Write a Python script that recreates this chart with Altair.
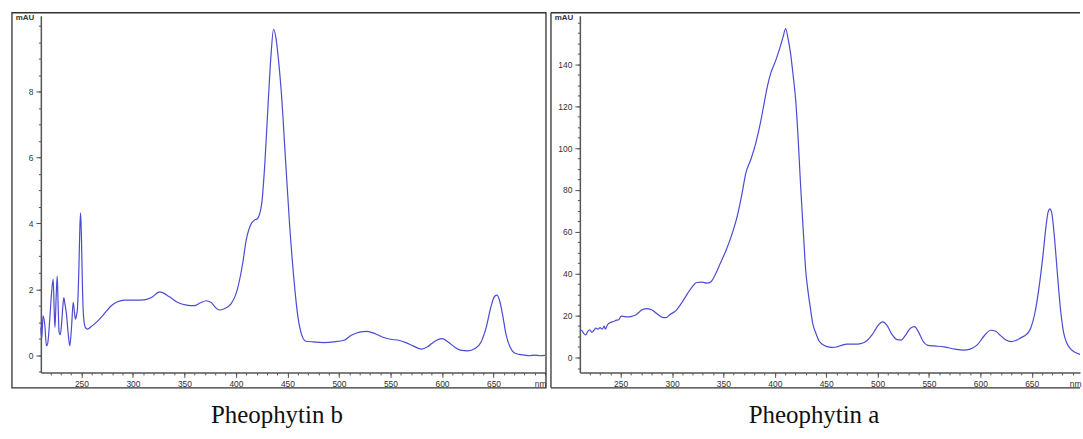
import altair as alt
import pandas as pd

# ---------------- data: Pheophytin b ----------------
b_nm = [210.6, 211.5, 212.7, 214.5, 216.0, 217.2, 219.5, 221.0, 222.6, 223.5, 224.3, 225.5, 226.5,
        227.4, 228.3, 229.5, 230.6, 232.0, 232.9, 234.0, 235.5, 237.0, 238.7, 240.5, 242.0, 243.2,
        244.2, 245.2, 246.2, 247.5, 248.5, 249.2, 250.0, 251.0, 252.0, 253.8, 255.8, 260.0, 266.0,
        272.0, 279.0, 285.0, 292.0, 300.0, 311.0, 318.0, 326.0, 335.0, 343.5, 352.0, 359.5, 365.0,
        371.0, 376.0, 380.0, 384.0, 388.0, 395.0, 400.0, 406.4, 410.0, 414.4, 418.0, 421.0, 425.0,
        428.0, 431.0, 434.0, 436.5, 439.0, 441.5, 444.0, 448.0, 452.0, 456.0, 460.0, 464.0, 468.0,
        475.0, 485.0, 495.0, 505.0, 512.0, 520.0, 527.0, 535.0, 542.0, 550.0, 558.0, 565.0, 572.0,
        580.0, 586.0, 592.0, 600.0, 606.0, 612.0, 618.0, 625.0, 632.0, 638.0, 643.0, 647.0, 651.0,
        653.5, 656.0, 659.0, 662.0, 666.0, 670.0, 675.0, 680.0, 685.0, 690.0, 695.0, 700.0]
b_val = [0.84, 0.5, 1.19, 0.9, 0.28, 0.35, 1.2, 1.9, 2.3, 1.4, 0.84, 1.8, 2.4,
         1.5, 0.7, 0.62, 0.9, 1.5, 1.75, 1.55, 1.24, 0.7, 0.28, 0.9, 1.6, 1.3,
         1.09, 1.2, 1.44, 2.6, 3.9, 4.32, 3.6, 2.05, 1.2, 0.84, 0.79, 0.88, 1.04,
         1.25, 1.5, 1.62, 1.67, 1.67, 1.68, 1.75, 1.92, 1.78, 1.6, 1.52, 1.5, 1.58,
         1.65, 1.6, 1.45, 1.37, 1.4, 1.55, 1.85, 2.76, 3.5, 3.97, 4.1, 4.15, 4.6,
         5.8, 7.5, 9.1, 9.9, 9.6, 8.9, 8.0, 6.0, 4.0, 2.4, 1.2, 0.6, 0.42,
         0.4, 0.38, 0.4, 0.45, 0.6, 0.7, 0.72, 0.65, 0.55, 0.48, 0.45, 0.38, 0.28,
         0.18, 0.25, 0.4, 0.5, 0.4, 0.25, 0.15, 0.13, 0.2, 0.4, 0.85, 1.4, 1.78,
         1.82, 1.65, 1.2, 0.65, 0.25, 0.07, 0.02, 0.0, -0.02, 0.0, -0.02, -0.01]

# ---------------- data: Pheophytin a ----------------
a_nm = [210.3, 212, 214, 216, 218, 220, 222, 224, 226, 228, 230, 232, 234, 235, 237, 240, 243, 246,
        248, 250.6, 254, 258, 262, 266, 270, 275, 280, 285, 290, 294, 298, 304, 310, 315, 320, 324,
        329, 334, 338, 342, 347, 352, 357, 363.7, 368, 371.8, 377, 381.5, 386, 389.6, 393, 396, 401,
        405, 408, 410.6, 413, 415.4, 418, 420.3, 423, 425, 428, 430, 432.5, 434.8, 437, 439.7, 443,
        446, 450, 455.8, 460, 465, 470, 480, 485, 489.5, 495, 500, 505, 509, 514, 519, 523, 527, 532,
        536, 540, 544, 549, 555, 565, 575, 584, 590, 597, 604, 610, 615, 620, 625, 630, 635, 640, 645,
        649, 653, 657, 661, 664, 666, 667.7, 669.5, 672, 675, 678, 681, 684, 688, 692, 697]
a_val = [12.5, 13, 11.5, 10.8, 12.5, 13.2, 12, 13, 14, 13.5, 14.3, 13.5, 15, 13.5, 15.5, 16.7, 17.2, 17.8,
         18, 19.7, 19.5, 19.4, 19.8, 20.8, 22.5, 23.3, 22.8, 21, 19.3, 19, 20.5, 22.5, 26.5, 30.5, 34, 35.8,
         36, 35.5, 36.2, 39.5, 45, 50.5, 57, 68, 78, 88, 95, 102.4, 112, 121.4, 130, 135.7, 142,
         148, 153, 157, 152, 145, 134, 123, 102, 83, 58, 42, 31, 23, 16, 11.9, 8,
         6.4, 5.3, 4.8, 5, 5.8, 6.4, 6.4, 6.8, 8, 11, 15, 17, 15.5, 11, 8.5, 8.3, 10.5, 14,
         14.7, 12, 8, 5.8, 5.5, 5.1, 4, 3.5, 4, 6, 10.5, 13, 12.5, 10.3, 8.3, 7.6, 8.2, 9.6, 11,
         14, 21, 33, 49, 63, 69.5, 71, 69, 58, 40, 23, 12, 7, 4, 2.5, 1.5]

x_major = [250, 300, 350, 400, 450, 500, 550, 600, 650]
b_x_minor = list(range(220, 701, 10))
a_x_minor = list(range(220, 691, 10))
b_y_major = [0, 2, 4, 6, 8]
b_y_minor = [i * 0.5 for i in range(-1, 21)]
a_y_major = [0, 20, 40, 60, 80, 100, 120, 140]
a_y_minor = list(range(-5, 161, 5))

H = 358
AX = "#555555"
LAB = "#333333"
LINE = "#4b4bd2"
SANS = "Liberation Sans"


def panel(nm, val, xdom, ydom, w, xminor, ymajor, yminor, title, full_frame):
    df = pd.DataFrame({"nm": nm, "v": val})
    xs = alt.Scale(domain=xdom, nice=False, zero=False)
    ys = alt.Scale(domain=ydom, nice=False, zero=False)
    base = alt.Chart(df)
    minor = base.mark_line(opacity=0).encode(
        x=alt.X("nm:Q", scale=xs, axis=alt.Axis(values=xminor, orient="bottom", tickSize=2.5,
                                                 labels=False, domain=False, grid=False, title=None,
                                                 tickColor=AX, tickWidth=1)),
        y=alt.Y("v:Q", scale=ys, axis=alt.Axis(values=yminor, orient="left", tickSize=2.5,
                                                labels=False, domain=False, grid=False, title=None,
                                                tickColor=AX, tickWidth=1)),
    )
    line = base.mark_line(color=LINE, strokeWidth=1.2, interpolate="monotone").encode(
        x=alt.X("nm:Q", scale=xs, axis=alt.Axis(
            values=x_major, orient="bottom", tickSize=5, tickColor=AX, tickWidth=1,
            domainColor=AX, domainWidth=1.5, grid=False, labelFlush=False,
            labelFont=SANS, labelFontSize=8.5, labelColor=LAB, labelPadding=2,
            title="nm", titleFont=SANS, titleFontSize=8.5, titleFontWeight="normal",
            titleColor=LAB, titleX=w + 1, titleY=11.5, titleAlign="right",
            titleBaseline="middle")),
        y=alt.Y("v:Q", scale=ys, axis=alt.Axis(
            values=ymajor, orient="left", tickSize=5, tickColor=AX, tickWidth=1,
            domainColor=AX, domainWidth=1.5, grid=False, labelFlush=False,
            labelFont=SANS, labelFontSize=8.5, labelColor=LAB, labelPadding=3,
            title="mAU", titleFont=SANS, titleFontSize=8, titleFontWeight="bold",
            titleColor=LAB, titleAngle=0, titleX=-7, titleY=4, titleAlign="right",
            titleBaseline="alphabetic")),
    )
    one = pd.DataFrame({"k": [0]})
    if full_frame:
        frame = [alt.Chart(one).mark_rect(fillOpacity=0, stroke="#333333", strokeWidth=1.3).encode(
            x=alt.value(-29), x2=alt.value(w + 1), y=alt.value(-3), y2=alt.value(H + 15.5))]
    else:
        frame = [
            alt.Chart(one).mark_rule(color="#333333", strokeWidth=1.3).encode(
                x=alt.value(-29), y=alt.value(-3), y2=alt.value(H + 15.5)),
            alt.Chart(one).mark_rule(color="#333333", strokeWidth=1.3).encode(
                x=alt.value(-29), x2=alt.value(w), y=alt.value(-3)),
            alt.Chart(one).mark_rule(color="#333333", strokeWidth=1.3).encode(
                x=alt.value(-29), x2=alt.value(w), y=alt.value(H + 15.5)),
        ]
    return alt.layer(minor, line, *frame).resolve_axis(x="independent", y="independent").properties(
        width=w, height=H,
        title=alt.TitleParams(text=title, orient="bottom", anchor="middle", font="Liberation Serif",
                              fontSize=25, fontWeight="normal", color="#111111", offset=15, dx=-16),
    )


left = panel(b_nm, b_val, [210.6, 700], [-0.527, 10.31], 506, b_x_minor, b_y_major, b_y_minor,
             "Pheophytin b", True)
right = panel(a_nm, a_val, [210.3, 697], [-7.14, 163.2], 502, a_x_minor, a_y_major, a_y_minor,
              "Pheophytin a", False)

chart = alt.hconcat(left, right, spacing=35, bounds="flush").properties(
    padding={"left": 10, "top": 10, "right": 0, "bottom": 2},
    background="white",
).configure_view(stroke="transparent")

chart.save("out.html", embed_options={"renderer": "svg", "actions": False})
